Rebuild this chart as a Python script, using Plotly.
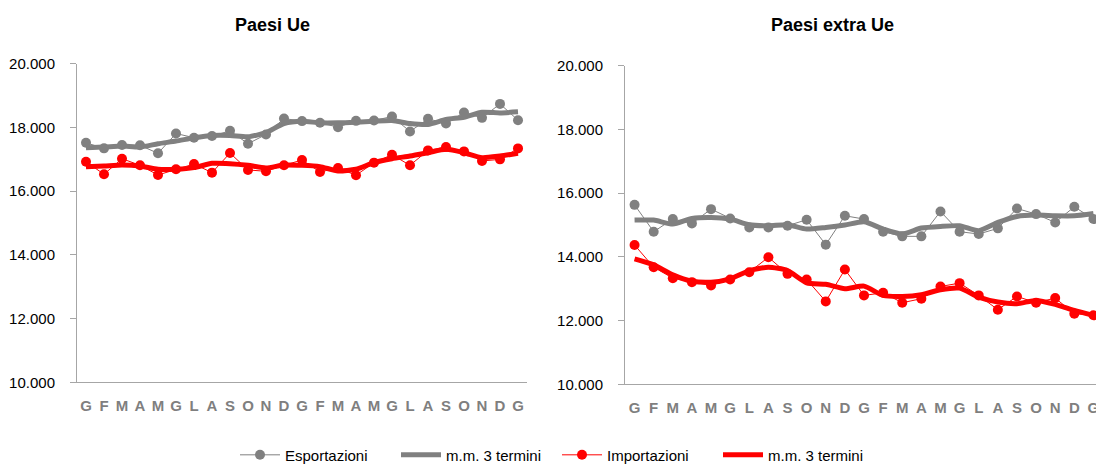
import plotly.graph_objects as go

months = ["G", "F", "M", "A", "M", "G", "L", "A", "S", "O", "N", "D",
          "G", "F", "M", "A", "M", "G", "L", "A", "S", "O", "N", "D", "G"]

# Paesi Ue
ue_exp = [17520, 17345, 17450, 17440, 17190, 17810, 17680, 17730, 17895, 17490, 17781, 18280,
          18200, 18146, 18010, 18208, 18219, 18344, 17875, 18271, 18125, 18469, 18302, 18740, 18229]
ue_exp_mm = [17365, 17385, 17417, 17385, 17490, 17573, 17677, 17750, 17750, 17708, 17840, 18125,
             18198, 18146, 18146, 18167, 18198, 18219, 18125, 18094, 18250, 18323, 18479, 18458, 18490]
ue_imp = [16927, 16531, 17021, 16813, 16510, 16688, 16854, 16583, 17198, 16667, 16625, 16813,
          16979, 16604, 16729, 16500, 16896, 17146, 16813, 17281, 17385, 17250, 16948, 17000, 17344]
ue_imp_mm = [16771, 16792, 16823, 16792, 16688, 16688, 16740, 16875, 16865, 16813, 16730, 16823,
             16813, 16771, 16635, 16688, 16896, 17021, 17104, 17208, 17313, 17208, 17052, 17104, 17188]

# Paesi extra Ue
ext_exp = [15634, 14792, 15188, 15052, 15500, 15208, 14927, 14927, 14979, 15167, 14385, 15292,
           15188, 14792, 14646, 14646, 15427, 14792, 14719, 14896, 15521, 15344, 15083, 15573, 15188]
ext_exp_mm = [15156, 15156, 15031, 15208, 15240, 15188, 15010, 14979, 15010, 14875, 14927, 15000,
              15104, 14875, 14719, 14906, 14958, 14979, 14823, 15083, 15271, 15313, 15292, 15292, 15365]
ext_imp = [14375, 13677, 13333, 13208, 13104, 13292, 13521, 13990, 13469, 13292, 12604, 13604,
           12792, 12875, 12563, 12688, 13073, 13177, 12792, 12344, 12760, 12563, 12708, 12219, 12167]
ext_imp_mm = [13938, 13750, 13438, 13240, 13208, 13313, 13573, 13677, 13573, 13188, 13140, 13000,
              13083, 12792, 12760, 12813, 12969, 13021, 12740, 12583, 12531, 12635, 12510, 12323, 12167]

y_ticks = [10000, 12000, 14000, 16000, 18000, 20000]

GREY = "#808080"
RED = "#FF0000"
FONT = "Liberation Sans, Arial, sans-serif"
# page body has an 8px margin: the figure starts at (8, 8) on screen
OFF = 8
W, H = 1104 - OFF, 464


def px_x(v):
    return (v - OFF) / W


def px_y(v):
    return (H - (v - OFF)) / H


x = list(range(len(months)))
fig = go.Figure()


def add_panel(exp, exp_mm, imp, imp_mm, xa, ya, show):
    fig.add_trace(go.Scatter(x=x, y=exp, mode="lines+markers", name="Esportazioni",
                             line=dict(color=GREY, width=1), marker=dict(color=GREY, size=10),
                             xaxis=xa, yaxis=ya, showlegend=show))
    fig.add_trace(go.Scatter(x=x, y=exp_mm, mode="lines", name="m.m. 3 termini",
                             line=dict(color=GREY, width=5, shape="spline", smoothing=0.6),
                             xaxis=xa, yaxis=ya, showlegend=show))
    fig.add_trace(go.Scatter(x=x, y=imp, mode="lines+markers", name="Importazioni",
                             line=dict(color=RED, width=1), marker=dict(color=RED, size=10),
                             xaxis=xa, yaxis=ya, showlegend=show))
    fig.add_trace(go.Scatter(x=x, y=imp_mm, mode="lines", name="m.m. 3 termini",
                             line=dict(color=RED, width=5, shape="spline", smoothing=0.6),
                             xaxis=xa, yaxis=ya, showlegend=show))


add_panel(ue_exp, ue_exp_mm, ue_imp, ue_imp_mm, "x", "y", True)
add_panel(ext_exp, ext_exp_mm, ext_imp, ext_imp_mm, "x2", "y2", False)

xaxis_common = dict(range=[-0.5, len(months) - 0.5], tickmode="array", tickvals=x, ticktext=months,
                    showline=True, linecolor="#A6A6A6", linewidth=1, ticks="", showgrid=False,
                    zeroline=False, automargin=False, ticklabelstandoff=10,
                    tickfont=dict(family=FONT, size=15, color="#7F7F7F", weight="bold"))
yaxis_common = dict(range=[10000, 20000], tickmode="array", tickvals=y_ticks, tickformat=",d",
                    showline=True, linecolor="#A6A6A6", linewidth=1, ticks="outside", ticklen=6,
                    tickcolor="#A6A6A6", showgrid=False, zeroline=False, automargin=False,
                    ticklabelstandoff=12, tickfont=dict(family=FONT, size=15, color="#000000"))

fig.update_layout(
    width=W, height=H,
    margin=dict(l=0, r=0, t=0, b=0),
    paper_bgcolor="white", plot_bgcolor="white",
    separators=",.",
    xaxis=dict(domain=[px_x(77), px_x(527)], anchor="y", **xaxis_common),
    yaxis=dict(domain=[px_y(384), px_y(64)], anchor="x", **yaxis_common),
    xaxis2=dict(domain=[px_x(625), min(1.0, px_x(1103))], anchor="y2", **xaxis_common),
    yaxis2=dict(domain=[px_y(386), px_y(66)], anchor="x2", **yaxis_common),
    legend=dict(orientation="h", x=px_x(557), xanchor="center", y=px_y(457), yanchor="middle",
                font=dict(family=FONT, size=15, color="#000000"), bgcolor="rgba(0,0,0,0)",
                tracegroupgap=0, itemwidth=40, entrywidth=106, entrywidthmode="pixels"),
    showlegend=True,
    annotations=[
        dict(text="<b>Paesi Ue</b>", x=px_x(272), y=px_y(25), xref="paper", yref="paper",
             showarrow=False, xanchor="center", yanchor="middle",
             font=dict(family=FONT, size=18, color="#000000")),
        dict(text="<b>Paesi extra Ue</b>", x=px_x(832), y=px_y(25), xref="paper", yref="paper",
             showarrow=False, xanchor="center", yanchor="middle",
             font=dict(family=FONT, size=18, color="#000000")),
    ],
)

fig.write_html("out.html")
